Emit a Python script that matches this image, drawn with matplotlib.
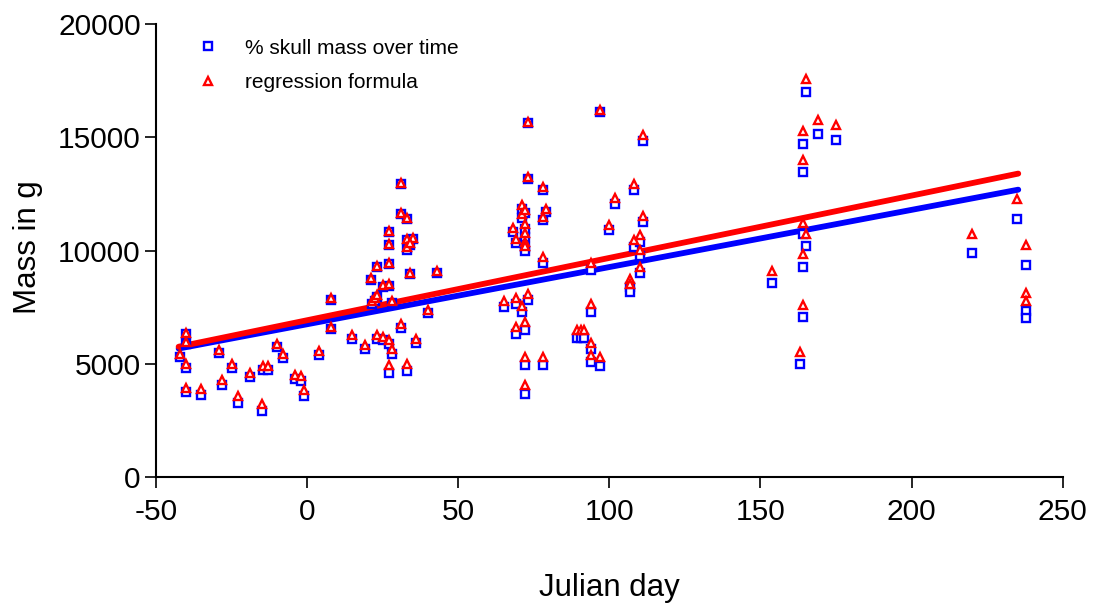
import matplotlib
matplotlib.use("Agg")
import matplotlib.pyplot as plt

plt.rcParams['font.family'] = ['Liberation Sans', 'DejaVu Sans']

# Julian day of each observation
days = [-42, -40, -40, -40, -40, -35, -29, -28, -25, -23, -19, -15, -14.5, -12.8,
        -10, -8, -4, -2, -1, 4, 8, 8, 15, 19, 21, 21.5, 22.5, 23, 23, 23, 25, 25,
        27, 27, 27, 27, 27, 27, 28, 28, 31, 31, 31, 33, 33, 33, 35, 34, 34, 33, 36,
        40, 43,
        65, 68, 69, 69, 69, 71, 71, 71, 72, 72, 72, 72, 72, 72, 72, 72, 73, 73, 73,
        78, 79, 78, 78, 78, 89.4, 90.5, 91.6, 94, 94, 94, 94, 97, 97, 100, 102,
        107, 107, 108, 108, 110, 110, 110, 111, 111,
        153.7, 163, 164, 164, 164, 164, 164, 165, 165, 169, 175, 220, 235, 238, 238, 238]

# % skull mass over time (g)
skull_mass = [5305, 6337, 5865, 4838, 3762, 3616, 5482, 4057, 4838, 3277, 4423, 2924, 4750, 4750,
              5746, 5261, 4322, 4247, 3585, 5380, 7837, 6558, 6116, 5675, 8719, 7650, 7800, 7950, 9274, 6116, 8393, 6042,
              10818, 10231, 9393, 8450, 5896, 4617, 7700, 5424, 12952, 11598, 6600, 11378, 10452, 10041, 10496, 10250, 8960, 4690, 5925,
              7250, 9000,
              7510, 10818, 10333, 7660, 6337, 11850, 11453, 7290, 11656, 10968, 10598, 10156, 9980, 6513, 4939, 3691, 15626, 13173, 7806,
              12657, 11700, 11365, 9451, 4939, 6143, 6143, 6143, 9160, 7290, 5675, 5085, 16110, 4900, 10893, 12070,
              8393, 8173, 12657, 10156, 10377, 9746, 9010, 14831, 11259,
              8569, 5014, 7069, 9274, 10747, 13464, 14716, 10187, 16992, 15126, 14862, 9892, 11378, 9380, 7334, 7025]

# regression formula (g)
regression = [5420, 6370, 5950, 4980, 3950, 3900, 5600, 4280, 5000, 3570, 4600, 3220, 4900, 4900,
              5890, 5420, 4530, 4450, 3860, 5560, 7900, 6650, 6270, 5850, 8800, 7780, 7920, 8050, 9340, 6280, 8500, 6200,
              10880, 10300, 9460, 8540, 6060, 4940, 7800, 5640, 13000, 11660, 6760, 11440, 10520, 10150, 10560, 10330, 9030, 5000, 6120,
              7400, 9080,
              7780, 11000, 10500, 7900, 6630, 12000, 11600, 7550, 11800, 11190, 10800, 10380, 10200, 6850, 5300, 4050, 15670, 13270, 8100,
              12800, 11850, 11500, 9720, 5300, 6480, 6480, 6480, 9450, 7630, 5930, 5380, 16210, 5310, 11130, 12330,
              8750, 8550, 12950, 10450, 10670, 10050, 9300, 15110, 11550,
              9098, 5527, 7585, 9834, 11215, 14011, 15273, 10716, 17583, 15744, 15523, 10716, 12290, 10231, 8128, 7775]

# linear fit lines (end points)
fit_days = [-42.5, 235.3]
fit_skull = [5680, 12690]
fit_regression = [5760, 13400]

x_ticks = [-50, 0, 50, 100, 150, 200, 250]
y_ticks = [0, 5000, 10000, 15000, 20000]

fig = plt.figure(figsize=(10.96, 6.08), dpi=100)
ax = fig.add_axes([0.1423, 0.2150, 0.8273, 0.7455])

ax.plot(fit_days, fit_skull, color='#0000FF', lw=4.2, solid_capstyle='round', zorder=2)
ax.plot(fit_days, fit_regression, color='#FF0000', lw=4.2, solid_capstyle='round', zorder=2)

h1, = ax.plot(days, skull_mass, ls='none', marker='s', ms=6.2, mew=1.7,
              mfc='white', mec='#0000FF', label='% skull mass over time', zorder=3)
h2, = ax.plot(days, regression, ls='none', marker='^', ms=5.8, mew=1.7,
              mfc='white', mec='#FF0000', label='regression formula', zorder=4)

ax.set_xlim(-50, 250)
ax.set_ylim(0, 20000)
ax.set_xticks(x_ticks)
ax.set_yticks(y_ticks)
ax.set_xticklabels([str(v) for v in x_ticks])
ax.set_yticklabels([str(v) for v in y_ticks])

for s in ['top', 'right']:
    ax.spines[s].set_visible(False)
for s in ['left', 'bottom']:
    ax.spines[s].set_linewidth(1.5)

ax.tick_params(axis='both', direction='out', length=8, width=1.2, labelsize=21.5)
ax.tick_params(axis='x', pad=7)
ax.tick_params(axis='y', pad=3)

ax.set_xlabel('Julian day', fontsize=22.5, va='center')
ax.xaxis.set_label_coords(0.5, -0.244)
ax.set_ylabel('Mass in g', fontsize=22.5, va='center')
ax.yaxis.set_label_coords(-0.141, 0.507)

ax.legend(handles=[h1, h2], loc='upper left', bbox_to_anchor=(0.046, 0.968),
          frameon=False, fontsize=15, borderpad=0, borderaxespad=0,
          handlelength=1.0, handletextpad=1.28, labelspacing=0.75)

fig.savefig('out.png', dpi=100)
